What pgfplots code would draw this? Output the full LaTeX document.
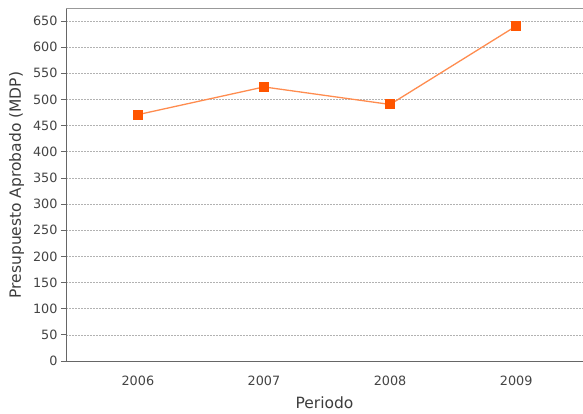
\documentclass[border=0pt]{standalone}
\usepackage{pgfplots}
\pgfplotsset{compat=1.18}
\usepackage{fontspec}
\setmainfont{DejaVu Sans}
\definecolor{lineor}{HTML}{FF8C4F}
\definecolor{markor}{HTML}{FF5500}
\definecolor{txt}{HTML}{444444}
\definecolor{axl}{HTML}{666666}
\begin{document}
\begin{tikzpicture}[x=1pt,y=1pt]
\begin{axis}[
  at={(66pt,52pt)}, anchor=south west,
  scale only axis, width=517pt, height=352pt,
  xmin=-0.57, xmax=3.53, ymin=0, ymax=673,
  xtick={0,1,2,3}, xticklabels={2006,2007,2008,2009},
  ytick={0,50,...,650},
  axis x line*=bottom, axis y line*=left,
  axis line style={axl, line width=1pt, -},
  ymajorgrids, grid style={gray!60, dash pattern=on 1.5pt off 1.5pt, line width=0.7pt},
  tick align=outside, major tick length=5pt,
  xtick style={draw=none}, ytick style={axl, line width=0.8pt},
  tick label style={font=\fontsize{12.8}{15}\selectfont, text=txt},
  /pgf/number format/assume math mode=true,
  xticklabel style={yshift=-6pt},
  xlabel={Periodo}, ylabel={Presupuesto Aprobado (MDP)},
  label style={font=\fontsize{15.5}{18}\selectfont, text=txt!90!black},
  xlabel style={yshift=-4.5pt},
  ylabel style={yshift=2pt},
  clip=false,
]
\addplot[lineor, line width=1.3pt, mark=square*, mark size=4.5pt,
  mark options={draw=markor, fill=markor, line width=0pt}]
  coordinates {(0,471) (1,524) (2,490.5) (3,640.5)};
\end{axis}
\draw[gray!80, line width=1pt] (66pt,413pt-9pt) -- (583pt,413pt-9pt);
\pgfresetboundingbox
\path (0,0) rectangle (583pt,413pt);
\end{tikzpicture}
\end{document}
